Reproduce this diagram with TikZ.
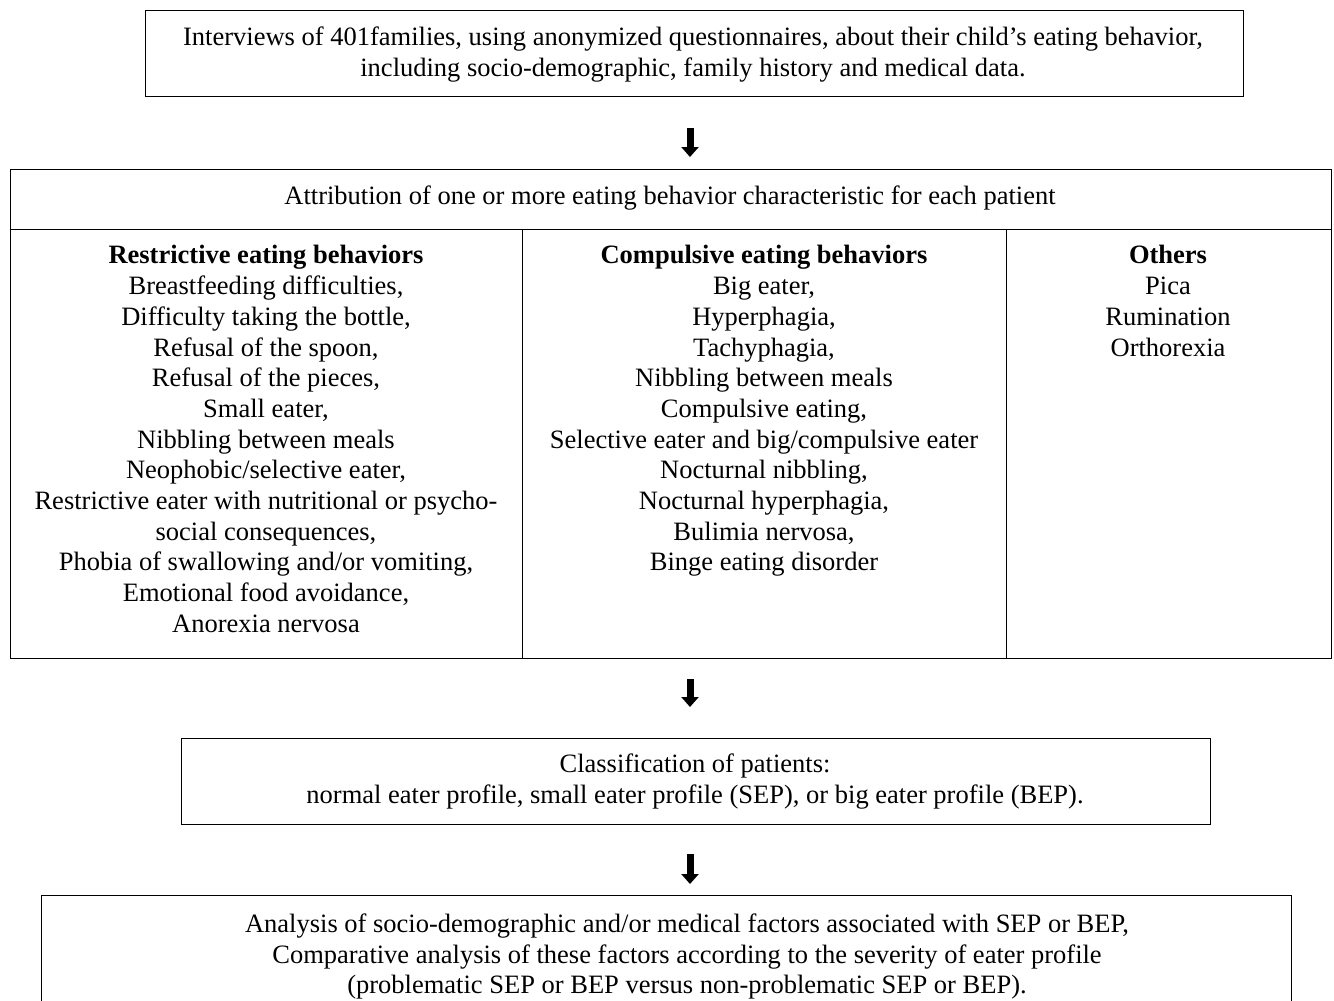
\documentclass[tikz,border=0pt]{standalone}
\usepackage{fontspec}
\setmainfont{Liberation Serif}
\usetikzlibrary{arrows.meta,calc}
\tikzset{
  box/.style={draw, line width=1pt, anchor=north west, inner sep=0pt},
  txt/.style={align=center, inner sep=0pt, anchor=north, font=\fontsize{26.5}{30.7}\selectfont},
  bigarrow/.style={line width=7pt, -{Triangle[width=17pt,length=10pt]}},
}
\begin{document}
\begin{tikzpicture}[x=1pt,y=-1pt]
\useasboundingbox (0,0) rectangle (1334,1001);
\clip (0,0) rectangle (1334,1001);
% box 1
\node[box, minimum width=1098pt, minimum height=86pt] (b1) at (145,10) {};
\node[txt] (t1) at (693,27) {Interviews of 401families, using anonymized questionnaires, about their child’s eating behavior,\\including socio-demographic, family history and medical data.};
% box 2
\node[box, minimum width=1321pt, minimum height=489pt] (b2) at (10,169) {};
\coordinate (hl) at (10,229);
\coordinate (hr) at (1331,229);
\draw[line width=1pt] (hl) -- (hr);
\draw[line width=1pt] (522,229) -- (522,658);
\draw[line width=1pt] (1006,229) -- (1006,658);
\node[txt] (t2) at (670,186) {Attribution of one or more eating behavior characteristic for each patient};
\node[txt] (c1) at (266,245.4) {\textbf{Restrictive eating behaviors}\\Breastfeeding difficulties,\\Difficulty taking the bottle,\\Refusal of the spoon,\\Refusal of the pieces,\\Small eater,\\Nibbling between meals\\Neophobic/selective eater,\\Restrictive eater with nutritional or psycho-\\social consequences,\\Phobia of swallowing and/or vomiting,\\Emotional food avoidance,\\Anorexia nervosa};
\node[txt] (c2) at (764,245.4) {\textbf{Compulsive eating behaviors}\\Big eater,\\Hyperphagia,\\Tachyphagia,\\Nibbling between meals\\Compulsive eating,\\Selective eater and big/compulsive eater\\Nocturnal nibbling,\\Nocturnal hyperphagia,\\Bulimia nervosa,\\Binge eating disorder};
\node[txt] (c3) at (1168,245.4) {\textbf{Others}\\Pica\\Rumination\\Orthorexia};
% box 3
\node[box, minimum width=1029pt, minimum height=86pt] (b3) at (181,738) {};
\node[txt] (t3) at (695,754) {Classification of patients:\\normal eater profile, small eater profile (SEP), or big eater profile (BEP).};
% box 4
\node[box, minimum width=1250pt, minimum height=150pt] (b4) at (41,895) {};
\node[txt] (t4) at (687,913.6) {Analysis of socio-demographic and/or medical factors associated with SEP or BEP,\\Comparative analysis of these factors according to the severity of eater profile\\(problematic SEP or BEP versus non-problematic SEP or BEP).};
% arrows
\coordinate (ax) at (690,0);
\draw[bigarrow, shorten <=31pt, shorten >=12pt] (b1.south -| ax) -- (b2.north -| ax);
\draw[bigarrow, shorten <=20pt, shorten >=31pt] (b2.south -| ax) -- (b3.north -| ax);
\draw[bigarrow, shorten <=29pt, shorten >=11pt] (b3.south -| ax) -- (b4.north -| ax);
\end{tikzpicture}
\end{document}
